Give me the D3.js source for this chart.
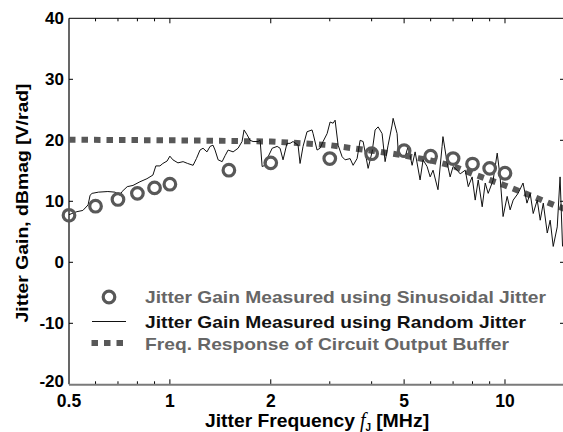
<!DOCTYPE html>
<html><head><meta charset="utf-8">
<script src="https://cdn.jsdelivr.net/npm/d3@7"></script>
<style>
body{margin:0;background:#fff;}
svg{display:block;}
text{font-family:"Liberation Sans",Arial,sans-serif;font-weight:bold;}
</style></head>
<body>
<svg id="chart" width="563" height="432"></svg>
<script>
// ---- data ----
const sineFreq = [0.5,0.6,0.7,0.8,0.9,1.0,1.5,2,3,4,5,6,7,8,9,10];
const sineGain = [7.7,9.2,10.3,11.3,12.2,12.8,15.1,16.3,17.0,17.8,18.3,17.4,17.0,16.1,15.4,14.6];

const bufFreq = [0.5,1,1.5,2,2.5,3,3.5,4,4.5,5,6,7,8,9,10,11,12,13,14,15];
const bufGain = [20.1,20.0,19.9,19.8,19.5,19.2,18.7,18.3,17.9,17.5,16.7,15.8,14.5,13.5,12.6,11.7,10.9,10.1,9.4,8.8];

const rjFreq = [0.50,0.51,0.528,0.55,0.57,0.578,0.586,0.612,0.653,0.686,0.71,0.72,0.746,0.776,0.814,0.854,0.89,0.908,0.934,0.953,0.981,1.00,1.021,1.057,1.095,1.13,1.173,1.20,1.23,1.256,1.29,1.318,1.345,1.364,1.393,1.432,1.462,1.492,1.544,1.598,1.642,1.665,1.70,1.735,1.771,1.832,1.859,1.885,1.924,1.964,2.02,2.09,2.132,2.176,2.236,2.284,2.331,2.413,2.446,2.497,2.566,2.656,2.675,2.749,2.807,2.865,2.946,3.007,3.07,3.112,3.177,3.266,3.334,3.45,3.522,3.619,3.696,3.773,3.905,4.013,4.097,4.182,4.298,4.388,4.479,4.604,4.636,4.765,4.798,4.932,5.035,5.14,5.283,5.393,5.58,5.696,5.855,5.98,6.10,6.31,6.49,6.53,6.71,6.86,7.00,7.20,7.35,7.61,7.77,7.98,8.15,8.32,8.55,8.73,8.91,9.22,9.48,9.67,9.87,10.15,10.36,10.58,10.94,11.32,11.63,11.89,12.14,12.48,12.74,13.01,13.37,13.64,13.93,14.32,14.6,14.85];
const rjGain = [7.8,8.0,8.3,8.5,9.4,11.0,11.3,11.5,11.6,11.5,11.0,11.6,12.4,12.6,13.2,13.7,14.3,15.8,15.8,16.2,16.6,17.4,16.8,16.3,16.5,16.2,15.9,17.0,18.4,18.7,18.1,19.0,19.2,18.4,16.8,16.5,17.5,18.4,18.1,18.7,19.8,21.7,20.9,20.0,19.8,19.8,20.0,15.7,15.9,17.3,18.7,19.0,18.7,16.8,19.5,19.5,19.8,19.2,16.2,19.0,21.4,21.7,21.1,18.4,18.7,19.8,21.1,23.0,22.8,23.3,19.2,17.3,16.8,17.0,15.9,17.0,20.0,19.8,15.4,18.1,21.7,22.2,21.1,16.5,19.2,22.5,23.6,21.1,18.4,17.3,17.3,19.0,15.9,18.1,13.5,16.8,15.7,14.0,15.1,11.9,19.0,20.6,16.5,14.0,15.7,15.1,14.5,15.1,12.4,14.0,10.2,13.5,9.1,13.0,11.3,13.5,17.9,14.0,7.5,10.8,8.6,10.2,11.3,13.0,9.7,11.3,8.0,10.2,6.9,9.7,4.8,6.9,2.6,5.8,14.0,2.6];

const xMajorTicks = [0.5,1,2,5,10];
const xMinorTicks = [0.6,0.7,0.8,0.9,3,4,6,7,8,9];
const yTicks = [-20,-10,0,10,20,30,40];

const legendLabels = ["Jitter Gain Measured using Sinusoidal Jitter","Jitter Gain Measured using Random Jitter","Freq. Response of Circuit Output Buffer"];

// ---- layout ----
const L=69, R=564, T=18.3, B=384.3;
const svg = d3.select("#chart");
const x = d3.scaleLog().domain([0.5,15]).range([L,R]);
const y = d3.scaleLinear().domain([-20,40]).range([B,T]);
const grey = "#585858";

// frame: top line, left axis
svg.append("line").attr("x1",L).attr("x2",R).attr("y1",T).attr("y2",T).attr("stroke","#000").attr("stroke-width",1);
svg.append("line").attr("x1",L).attr("x2",L).attr("y1",T).attr("y2",B).attr("stroke","#000").attr("stroke-width",1.2);

// ticks (inward)
const g = svg.append("g");
xMajorTicks.concat(xMinorTicks).forEach(v=>{
  const maj = xMajorTicks.includes(v);
  const len = maj?5:3;
  if(v!==0.5){
    g.append("line").attr("x1",x(v)).attr("x2",x(v)).attr("y1",B).attr("y2",B-len).attr("stroke","#000").attr("stroke-width",1);
    g.append("line").attr("x1",x(v)).attr("x2",x(v)).attr("y1",T).attr("y2",T+len).attr("stroke","#000").attr("stroke-width",1);
  }
});
yTicks.forEach(v=>{
  if(v===-20||v===40) return;
  g.append("line").attr("x1",L).attr("x2",L+4).attr("y1",y(v)).attr("y2",y(v)).attr("stroke","#000");
  g.append("line").attr("x1",R-4).attr("x2",R).attr("y1",y(v)).attr("y2",y(v)).attr("stroke","#000");
});

// tick labels
svg.append("g").selectAll("text").data(yTicks).join("text")
  .attr("x",64).attr("y",d=>d===-20?387:y(d)+6.1).attr("text-anchor","end")
  .attr("font-size",17).attr("fill","#000").text(d=>d);
svg.append("g").selectAll("text").data(xMajorTicks).join("text")
  .attr("x",d=>x(d)).attr("y",406.5).attr("text-anchor","middle")
  .attr("font-size",17.5).attr("fill","#000").text(d=>d);

// buffer response (dotted squares)
svg.append("path").attr("d",d3.line().x(d=>x(d[0])).y(d=>y(d[1]))(bufFreq.map((f,i)=>[f,bufGain[i]])))
  .attr("fill","none").attr("stroke",grey).attr("stroke-width",6).attr("stroke-dasharray","6.5,6");

// random jitter line
svg.append("path").attr("d",d3.line().x(d=>x(d[0])).y(d=>y(d[1]))(rjFreq.map((f,i)=>[f,rjGain[i]])))
  .attr("fill","none").attr("stroke","#111").attr("stroke-width",1).attr("stroke-linejoin","round");

// sinusoidal circles
svg.append("g").selectAll("circle").data(sineFreq.map((f,i)=>[f,sineGain[i]])).join("circle")
  .attr("cx",d=>x(d[0])).attr("cy",d=>y(d[1])).attr("r",5.8)
  .attr("fill","none").attr("stroke",grey).attr("stroke-width",3.2);

// bottom axis (grey thick)
svg.append("line").attr("x1",L).attr("x2",R).attr("y1",B+0.5).attr("y2",B+0.5).attr("stroke","#7a7a7a").attr("stroke-width",2);

// legend
const lg = svg.append("g");
lg.append("circle").attr("cx",109).attr("cy",297).attr("r",5.8).attr("fill","none").attr("stroke",grey).attr("stroke-width",3.2);
lg.append("line").attr("x1",92).attr("x2",126).attr("y1",321.5).attr("y2",321.5).attr("stroke","#111").attr("stroke-width",1);
lg.append("line").attr("x1",91.5).attr("x2",125).attr("y1",343).attr("y2",343).attr("stroke",grey).attr("stroke-width",6).attr("stroke-dasharray","6.5,6");
const lcol = ["#666","#111","#666"];
const ly = [297,321.5,343.5];
const lw = [401,381,364];
legendLabels.forEach((t,i)=>{
  lg.append("text").attr("x",145).attr("y",ly[i]).attr("dy","0.36em").attr("font-size",17)
    .attr("textLength",lw[i]).attr("lengthAdjust","spacingAndGlyphs").attr("fill",lcol[i]).text(t);
});

// axis titles
svg.append("text").attr("transform","translate(28,203) rotate(-90)").attr("text-anchor","middle")
  .attr("font-size",17).attr("textLength",239).attr("lengthAdjust","spacingAndGlyphs")
  .attr("fill","#000").text("Jitter Gain, dBmag [V/rad]");
const xt = svg.append("text").attr("x",205).attr("y",427).attr("font-size",17.5).attr("fill","#000");
xt.append("tspan").attr("textLength",150).attr("lengthAdjust","spacingAndGlyphs").text("Jitter Frequency");
xt.append("tspan").attr("dx",5).attr("font-family","'Liberation Serif','Times New Roman',serif").attr("font-style","italic").attr("font-weight","normal").attr("font-size",20).text("f");
xt.append("tspan").attr("font-size",10).attr("dy",4).text("J");
xt.append("tspan").attr("dy",-4).attr("dx",5).attr("textLength",53).attr("lengthAdjust","spacingAndGlyphs").text("[MHz]");
</script>
</body></html>
